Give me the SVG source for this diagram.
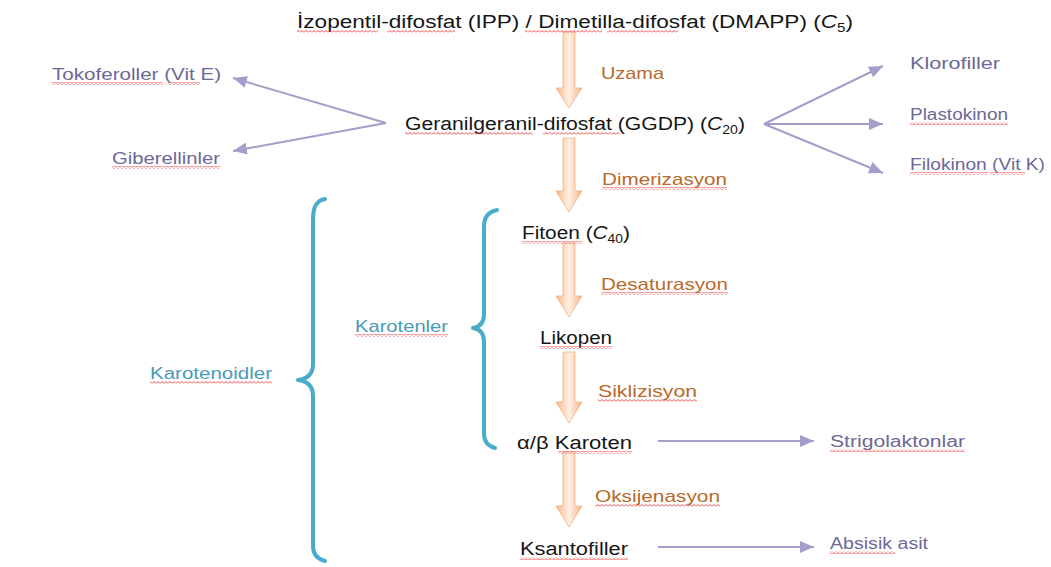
<svg xmlns="http://www.w3.org/2000/svg" width="1051" height="567" viewBox="0 0 1051 567">
<defs>
<style>
text{font-family:"Liberation Sans","DejaVu Sans",sans-serif;}
.blk{fill:#161616;font-size:18px;}
.org{fill:#b9692a;font-size:17px;}
.pur{fill:#6c6898;font-size:16px;}
.tea{fill:#4a9ab9;font-size:16px;}
.sq{fill:url(#sq);}
.con{stroke:#a69dca;stroke-width:2;fill:none;marker-end:url(#ah);}
.brace{stroke:#4aaccb;stroke-width:4;fill:none;stroke-linecap:round;stroke-linejoin:round;}
.blockarrow{fill:url(#ag);stroke:#f3b183;stroke-width:0.8;}
</style>
<pattern id="sq" width="4" height="3" patternUnits="userSpaceOnUse">
<path d="M0,2.5 L2,0.5 L4,2.5" stroke="#f03030" stroke-width="0.9" fill="none"/>
</pattern>
<linearGradient id="ag" x1="0" y1="0" x2="1" y2="0">
<stop offset="0" stop-color="#f6b589"/>
<stop offset="0.5" stop-color="#fff1e4"/>
<stop offset="1" stop-color="#f6b589"/>
</linearGradient>
<marker id="ah" markerUnits="userSpaceOnUse" markerWidth="14" markerHeight="12" refX="14" refY="6" orient="auto">
<path d="M0,0 L14,6 L0,12 z" fill="#a69dca"/>
</marker>
</defs>
<rect width="1051" height="567" fill="#ffffff"/>

<g id="connectors">
<path class="blockarrow" d="M563,32 L575,32 L575,88 L582,88 L569,108 L556,88 L563,88 z"/>
<path class="blockarrow" d="M563,138 L575,138 L575,191 L582,191 L569,212 L556,191 L563,191 z"/>
<path class="blockarrow" d="M563,243 L575,243 L575,296 L582,296 L569,317 L556,296 L563,296 z"/>
<path class="blockarrow" d="M563,352 L575,352 L575,402 L582,402 L569,423 L556,402 L563,402 z"/>
<path class="blockarrow" d="M563,452 L575,452 L575,506 L582,506 L569,527 L556,506 L563,506 z"/>
<line class="con" x1="386" y1="123" x2="233" y2="78"/>
<line class="con" x1="386" y1="123" x2="233" y2="151"/>
<line class="con" x1="764" y1="124" x2="883" y2="66"/>
<line class="con" x1="764" y1="124" x2="883" y2="124"/>
<line class="con" x1="764" y1="124" x2="883" y2="173"/>
<line class="con" x1="658" y1="441" x2="814" y2="441"/>
<line class="con" x1="658" y1="547" x2="814" y2="547"/>
</g>

<g id="braces">
<path class="brace" d="M325,199 C315,201 313,209 313,220 L313,364 C313,374 307,379 298,380 C307,381 313,386 313,396 L313,546 C313,554 317,559 325,561"/>
<path class="brace" d="M497,210 C488,212 484,217 484,226 L484,314 C484,322 480,327 473,328 C480,329 484,334 484,342 L484,434 C484,442 488,446 495,448"/>
</g>

<g id="n-ipp">
<text class="blk" x="297" y="28" textLength="556" lengthAdjust="spacingAndGlyphs">İzopentil-difosfat (IPP) / Dimetilla-difosfat (DMAPP) (<tspan font-style="italic">C</tspan><tspan font-size="12" dy="4">5</tspan><tspan dy="-4">)</tspan></text>
<rect class="sq" x="297" y="30" width="81" height="3"/><rect class="sq" x="387" y="30" width="68" height="3"/><rect class="sq" x="525" y="30" width="77" height="3"/><rect class="sq" x="607" y="30" width="71" height="3"/>
</g>
<g id="l-uzama"><text class="org" x="601" y="79" textLength="63" lengthAdjust="spacingAndGlyphs">Uzama</text></g>

<g id="n-ggdp">
<text class="blk" x="405" y="130" textLength="340" lengthAdjust="spacingAndGlyphs">Geranilgeranil-difosfat (GGDP) (<tspan font-style="italic">C</tspan><tspan font-size="12" dy="4">20</tspan><tspan dy="-4">)</tspan></text>
<rect class="sq" x="405" y="132" width="128" height="3"/><rect class="sq" x="543" y="132" width="77" height="3"/>
</g>
<g id="n-toko">
<text class="pur" x="52" y="80" textLength="169" lengthAdjust="spacingAndGlyphs">Tokoferoller (Vit E)</text>
<rect class="sq" x="52" y="82" width="111" height="3"/><rect class="sq" x="168" y="82" width="32" height="3"/>
</g>
<g id="n-giber">
<text class="pur" x="112" y="164" textLength="108" lengthAdjust="spacingAndGlyphs">Giberellinler</text>
<rect class="sq" x="112" y="166" width="108" height="3"/>
</g>
<g id="n-kloro"><text class="pur" x="910" y="69" textLength="90" lengthAdjust="spacingAndGlyphs">Klorofiller</text></g>
<g id="n-plasto">
<text class="pur" x="910" y="120" textLength="98" lengthAdjust="spacingAndGlyphs">Plastokinon</text>
<rect class="sq" x="910" y="122" width="98" height="3"/>
</g>
<g id="n-filo">
<text class="pur" x="910" y="170" textLength="135" lengthAdjust="spacingAndGlyphs">Filokinon (Vit K)</text>
<rect class="sq" x="910" y="172" width="78" height="3"/><rect class="sq" x="990" y="172" width="35" height="3"/>
</g>
<g id="l-dimer">
<text class="org" x="602" y="185" textLength="125" lengthAdjust="spacingAndGlyphs">Dimerizasyon</text>
<rect class="sq" x="602" y="187" width="125" height="3"/>
</g>

<g id="n-fitoen">
<text class="blk" x="522" y="239" textLength="108" lengthAdjust="spacingAndGlyphs">Fitoen (<tspan font-style="italic">C</tspan><tspan font-size="12" dy="4">40</tspan><tspan dy="-4">)</tspan></text>
<rect class="sq" x="522" y="241" width="60" height="3"/>
</g>
<g id="l-desat">
<text class="org" x="601" y="290" textLength="127" lengthAdjust="spacingAndGlyphs">Desaturasyon</text>
<rect class="sq" x="601" y="292" width="127" height="3"/>
</g>
<g id="n-likopen">
<text class="blk" x="540" y="344" textLength="72" lengthAdjust="spacingAndGlyphs">Likopen</text>
<rect class="sq" x="540" y="346" width="72" height="3"/>
</g>
<g id="l-sikli">
<text class="org" x="598" y="397" textLength="99" lengthAdjust="spacingAndGlyphs">Siklizisyon</text>
<rect class="sq" x="598" y="399" width="99" height="3"/>
</g>
<g id="n-karoten">
<text class="blk" x="517" y="449" textLength="115" lengthAdjust="spacingAndGlyphs">α/β Karoten</text>
<rect class="sq" x="558" y="451" width="74" height="3"/>
</g>
<g id="n-strigo">
<text class="pur" x="830" y="447" textLength="135" lengthAdjust="spacingAndGlyphs">Strigolaktonlar</text>
<rect class="sq" x="830" y="449" width="135" height="3"/>
</g>
<g id="l-oksij">
<text class="org" x="595" y="502" textLength="125" lengthAdjust="spacingAndGlyphs">Oksijenasyon</text>
<rect class="sq" x="595" y="504" width="125" height="3"/>
</g>
<g id="n-ksanto">
<text class="blk" x="520" y="555" textLength="108" lengthAdjust="spacingAndGlyphs">Ksantofiller</text>
<rect class="sq" x="520" y="557" width="108" height="3"/>
</g>
<g id="n-absisik">
<text class="pur" x="830" y="549" textLength="98" lengthAdjust="spacingAndGlyphs">Absisik asit</text>
<rect class="sq" x="830" y="551" width="65" height="3"/>
</g>
<g id="n-karotenler">
<text class="tea" x="355" y="332" textLength="93" lengthAdjust="spacingAndGlyphs">Karotenler</text>
<rect class="sq" x="355" y="334" width="93" height="3"/>
</g>
<g id="n-karotenoidler">
<text class="tea" x="150" y="379" textLength="122" lengthAdjust="spacingAndGlyphs">Karotenoidler</text>
<rect class="sq" x="150" y="381" width="122" height="3"/>
</g>
</svg>
